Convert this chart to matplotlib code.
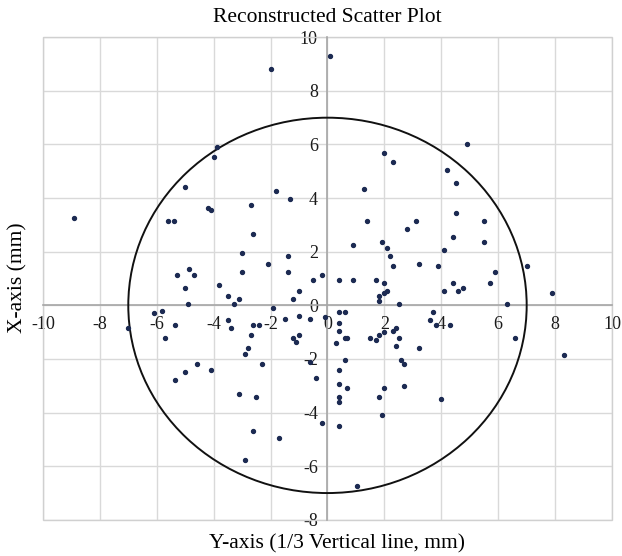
import matplotlib.pyplot as plt
from matplotlib.patches import Circle, Rectangle

plt.rcParams['font.family'] = ['Liberation Serif', 'DejaVu Serif']
plt.rcParams['axes.unicode_minus'] = False

# scatter points (x = horizontal, y = vertical)
xs = [-2.0, 0.1, -3.9, -4.0, 4.9, 2.0, 2.3,
      -8.9, -5.0, -5.6, -5.4, -4.2, -4.1, -2.7, -1.8, -1.3, -2.6, -3.0, -2.1,
      -1.4, -1.4, -3.0, -4.85, -5.3, -4.7, -5.0, -4.9, -3.8, -3.5, -3.3, -3.1,
      -0.5, -0.2, -1.0, -1.2, -1.9, -6.1, -5.8, -1.5, -1.0, -0.6,
      -7.0, -5.35, -5.7, -3.5, -3.4, -2.6, -2.4, -2.7, -2.8, -2.9, -1.2, -1.1,
      -1.0, -2.3, -0.6, -0.4, -4.6, -4.1, -5.0, -5.35, -3.1, -2.5, -0.2, -2.6,
      -1.7, -2.9, 1.05, -0.1,
      4.2, 4.5, 1.3, 1.4, 3.1, 2.8, 4.5, 5.5, 5.5, 4.4, 1.9, 2.1, 0.9, 2.2,
      4.1, 2.3, 3.2, 3.9, 7.0, 5.9, 0.4, 0.9, 1.7, 2.0, 4.4, 5.7, 1.8, 1.8,
      2.0, 2.1, 4.1, 4.6, 4.75, 7.9, 2.5, 6.3, 0.4, 0.6, 3.7,
      3.6, 3.8, 4.3, 0.4, 0.4, 0.3, 0.6, 0.7, 1.5, 1.7, 1.8, 2.0, 2.3, 2.4,
      2.5, 2.4, 3.2, 6.6, 8.3, 0.6, 2.6, 2.7, 0.4, 0.4, 0.7, 2.0, 2.7, 0.4,
      0.4, 1.8, 4.0, 1.9, 0.4]
ys = [8.8, 9.3, 5.9, 5.55, 6.0, 5.7, 5.35,
      3.25, 4.4, 3.15, 3.15, 3.65, 3.55, 3.75, 4.25, 3.95, 2.65, 1.95, 1.55,
      1.85, 1.25, 1.25, 1.35, 1.15, 1.15, 0.65, 0.05, 0.75, 0.35, 0.05, 0.25,
      0.95, 1.15, 0.55, 0.25, -0.1, -0.3, -0.2, -0.5, -0.4, -0.5,
      -0.85, -0.75, -1.2, -0.55, -0.85, -0.75, -0.75, -1.1, -1.6, -1.8, -1.2,
      -1.35, -1.1, -2.2, -2.1, -2.7, -2.2, -2.4, -2.5, -2.8, -3.3, -3.4, -4.4,
      -4.7, -4.95, -5.75, -6.75, -0.45,
      5.05, 4.55, 4.35, 3.15, 3.15, 2.85, 3.45, 3.15, 2.35, 2.55, 2.35, 2.15,
      2.25, 1.85, 2.05, 1.45, 1.55, 1.45, 1.45, 1.25, 0.95, 0.95, 0.95, 0.85,
      0.85, 0.85, 0.35, 0.15, 0.45, 0.55, 0.55, 0.55, 0.65, 0.45, 0.05, 0.05,
      -0.25, -0.25, -0.25,
      -0.55, -0.75, -0.75, -0.65, -0.95, -1.4, -1.2, -1.2, -1.2, -1.3, -1.1,
      -1.0, -0.95, -0.85, -1.2, -1.5, -1.6, -1.2, -1.85, -2.05, -2.05, -2.2,
      -2.4, -2.95, -3.1, -3.1, -3.0, -3.4, -3.6, -3.4, -3.5, -4.1, -4.5]

radius = 7
xticks = list(range(-10, 11, 2))
yticks = list(range(-8, 11, 2))

fig = plt.figure(figsize=(6.22, 5.56), dpi=100)
ax = fig.add_axes([0.069, 0.065, 0.915, 0.868])

ax.set_xlim(-10, 10)
ax.set_ylim(-8, 10)
ax.set_xticks(xticks)
ax.set_yticks(yticks)
ax.grid(True, color='#d9d9d9', linewidth=1)
ax.set_axisbelow(True)

for side in ['top', 'right']:
    ax.spines[side].set_visible(False)
ax.spines['left'].set_position('zero')
ax.spines['bottom'].set_position('zero')
for side in ['left', 'bottom']:
    ax.spines[side].set_color('#a6a6a6')
    ax.spines[side].set_linewidth(1.2)
ax.add_patch(Rectangle((0, 0), 1, 1, transform=ax.transAxes, fill=False,
                       edgecolor='#d0d0d0', linewidth=1, clip_on=False))

ax.tick_params(length=0, labelsize=13, colors='#1a1a1a')
ax.tick_params(axis='y', pad=7)
ax.tick_params(axis='x', pad=8)

ax.add_patch(Circle((0, 0), radius, fill=False, edgecolor='#111111',
                    linewidth=1.4, zorder=3))
ax.scatter(xs, ys, s=8, color='#1c2a52', zorder=4)

ax.set_title('Reconstructed Scatter Plot', fontsize=15.5, pad=11)
fig.text(0.542, 0.021, 'Y-axis (1/3 Vertical line, mm)', fontsize=15.5,
         ha='center', va='center')
fig.text(0.029, 0.5, 'X-axis (mm)', fontsize=15.5, rotation=90,
         ha='center', va='center')

plt.savefig('out.png')
